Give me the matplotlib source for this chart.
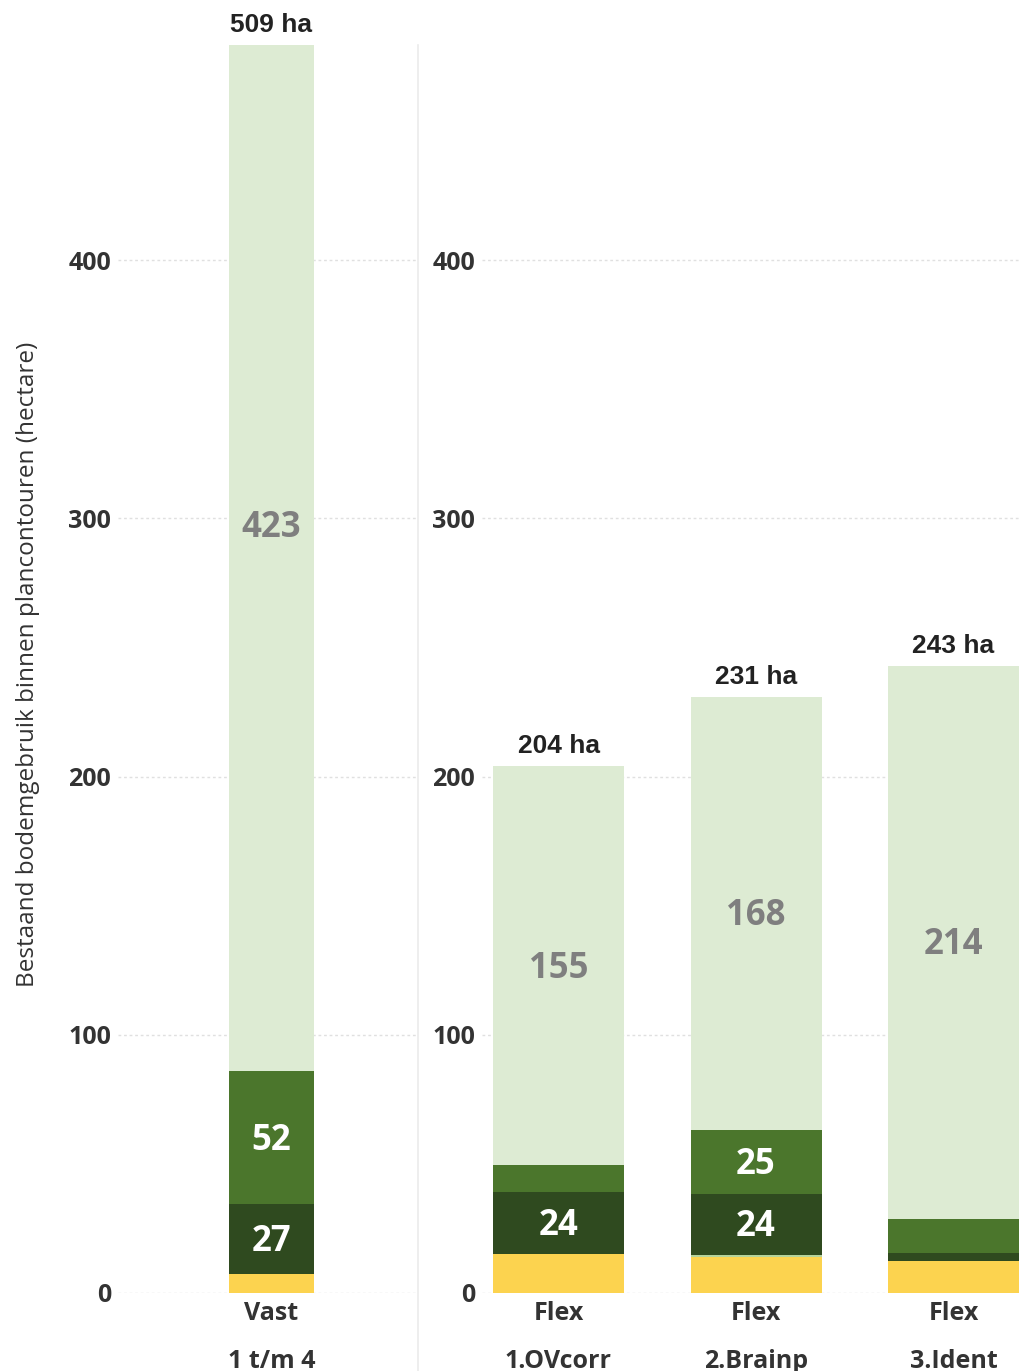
import matplotlib.pyplot as plt
from matplotlib.lines import Line2D

# data (hectare), stacked bottom -> top
vast_names = ['Vast']
vast_sub = ['1 t/m 4']
vast_yellow = [7.2]
vast_thin = [0.0]
vast_dark = [27.1]
vast_mid = [51.7]
vast_light = [423.0]

flex_names = ['Flex', 'Flex', 'Flex']
flex_sub = ['1.OVcorr', '2.Brainp', '3.Ident']
flex_yellow = [15.1, 14.0, 12.3]
flex_thin = [0.0, 0.6, 0.0]
flex_dark = [24.2, 23.9, 3.2]
flex_mid = [10.1, 24.6, 13.2]
flex_light = [154.6, 167.9, 214.3]

yticks = [0, 100, 200, 300, 400]

colors = ['#fcd34f', '#b5d39b', '#2f4a1f', '#4b762c', '#ddebd3']
label_colors = [None, None, 'white', 'white', '#7f7f7f']

W, H = 1019, 1371
fig = plt.figure(figsize=(W / 100, H / 100), dpi=100)

YMAX = 483.3
bottom_px = 1293
top_px = 45
ax_b = (H - bottom_px) / H
ax_h = (bottom_px - top_px) / H


def draw_panel(ax, names, subs, series, width, xlim):
    x = list(range(len(names)))
    base = [0.0] * len(x)
    for vals, col, lc in zip(series, colors, label_colors):
        ax.bar(x, vals, width, bottom=base, color=col, zorder=3, linewidth=0)
        for i, v in enumerate(vals):
            if v >= 20 and lc is not None:
                ax.annotate(f'{round(v)}', xy=(x[i], base[i] + v / 2), xytext=(0, -3),
                            textcoords='offset pixels', ha='center', va='center',
                            color=lc, fontsize=25, fontweight='bold', family='Open Sans',
                            zorder=4)
        base = [b + v for b, v in zip(base, vals)]
    for i, tot in enumerate(base):
        ax.annotate(f'{round(tot)} ha', xy=(x[i], min(tot, YMAX)), xytext=(0, 20),
                    textcoords='offset pixels', ha='center', va='center', fontsize=19,
                    fontweight='bold', family='Liberation Sans', color='#222222',
                    annotation_clip=False)
        ax.annotate(names[i], xy=(x[i], 0), xycoords=('data', 'axes fraction'),
                    xytext=(0, -21), textcoords='offset pixels', ha='center', va='center',
                    fontsize=18, fontweight='bold', family='Open Sans', color='#333333',
                    annotation_clip=False)
        ax.annotate(subs[i], xy=(x[i], 0), xycoords=('data', 'axes fraction'),
                    xytext=(0, -68), textcoords='offset pixels', ha='center', va='center',
                    fontsize=18, fontweight='bold', family='Open Sans', color='#333333',
                    annotation_clip=False)
    ax.set_xlim(*xlim)
    ax.set_ylim(0, YMAX)
    ax.set_yticks(yticks)
    ax.set_yticklabels([str(t) for t in yticks], fontsize=18, fontweight='bold',
                       family='Open Sans', color='#333333')
    ax.tick_params(axis='y', length=0, pad=5)
    ax.set_xticks([])
    ax.grid(axis='y', linestyle=(0, (2, 2)), color='#e0e0e0', linewidth=1, zorder=0)
    for s in ax.spines.values():
        s.set_visible(False)


# left panel
ax1 = fig.add_axes([118 / W, ax_b, 300 / W, ax_h])
draw_panel(ax1, vast_names, vast_sub,
           [vast_yellow, vast_thin, vast_dark, vast_mid, vast_light],
           85 / 300, (-(271.5 - 118) / 300, (418 - 271.5) / 300))

# right panel
ax2 = fig.add_axes([482 / W, ax_b, (W - 482) / W, ax_h])
draw_panel(ax2, flex_names, flex_sub,
           [flex_yellow, flex_thin, flex_dark, flex_mid, flex_light],
           131 / 197.5, (-(558.5 - 482) / 197.5, (W - 558.5) / 197.5))

# separator between panels
fig.add_artist(Line2D([418 / W, 418 / W], [0, (H - top_px) / H], color='#ebebeb',
                      linewidth=1.2, transform=fig.transFigure))

fig.text(28 / W, (H - 664) / H, 'Bestaand bodemgebruik binnen plancontouren (hectare)',
         rotation=90, ha='center', va='center', fontsize=17.5, family='Open Sans',
         color='#333333')

fig.savefig('out.png', dpi=100)
